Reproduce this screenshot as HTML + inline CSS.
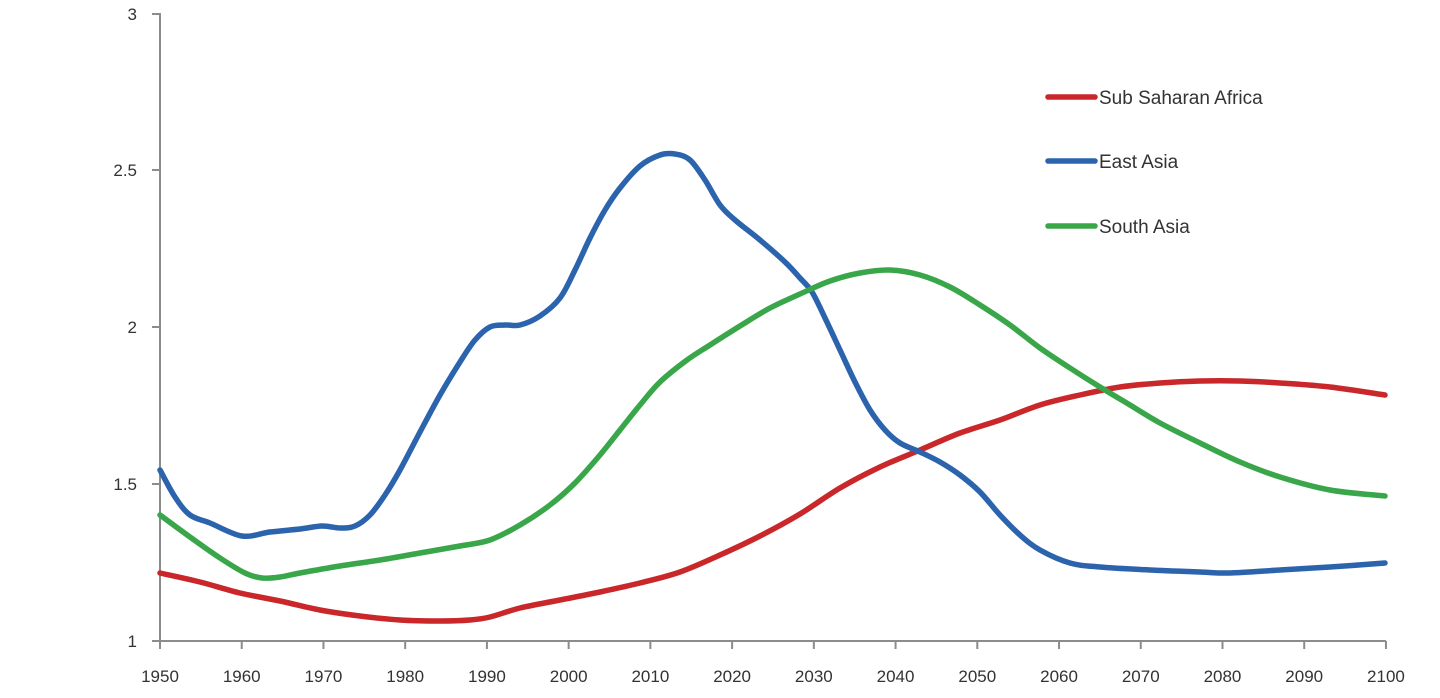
<!DOCTYPE html>
<html><head><meta charset="utf-8"><style>
html,body{margin:0;padding:0;background:#fff;}
svg{display:block;font-family:"Liberation Sans",sans-serif;}
</style></head><body>
<svg id="s" width="1440" height="698" viewBox="0 0 1440 698" xmlns="http://www.w3.org/2000/svg">
<rect width="1440" height="698" fill="#fff"/>
<g stroke="#8c8c8c" stroke-width="2" fill="none">
<line x1="160" y1="13" x2="160" y2="642"/>
<line x1="152" y1="641" x2="1386" y2="641"/>
<line x1="152" y1="14" x2="160" y2="14"/>
<line x1="152" y1="170" x2="160" y2="170"/>
<line x1="152" y1="327" x2="160" y2="327"/>
<line x1="152" y1="484" x2="160" y2="484"/>
<g id="xt"></g>
</g>
<g fill="#333" font-size="17" text-anchor="end">
<text x="137" y="20">3</text>
<text x="137" y="176">2.5</text>
<text x="137" y="333">2</text>
<text x="137" y="490">1.5</text>
<text x="137" y="647">1</text>
</g>
<g id="xl" fill="#333" font-size="17" text-anchor="middle"></g>
<g fill="none" stroke-width="5.5" stroke-linecap="round" stroke-linejoin="round">
<path id="red" stroke="#c9272a"/>
<path id="blue" stroke="#2b63ad"/>
<path id="green" stroke="#3aa64a"/>
<line x1="1048" y1="97" x2="1095" y2="97" stroke="#c9272a"/>
<line x1="1048" y1="161" x2="1095" y2="161" stroke="#2b63ad"/>
<line x1="1048" y1="226" x2="1095" y2="226" stroke="#3aa64a"/>
</g>
<g fill="#333" font-size="19">
<text x="1099" y="104">Sub Saharan Africa</text>
<text x="1099" y="168">East Asia</text>
<text x="1099" y="233">South Asia</text>
</g>
</svg>
<script>
var NS="http://www.w3.org/2000/svg";
var xt=document.getElementById("xt"),xl=document.getElementById("xl");
for(var i=0;i<=15;i++){var x=160+i*81.73;
var l=document.createElementNS(NS,"line");l.setAttribute("x1",x);l.setAttribute("x2",x);l.setAttribute("y1",641);l.setAttribute("y2",649);xt.appendChild(l);
var t=document.createElementNS(NS,"text");t.setAttribute("x",x);t.setAttribute("y",682);t.textContent=1950+i*10;xl.appendChild(t);}
function cr(p){var d="M"+p[0][0]+","+p[0][1];
for(var i=0;i<p.length-1;i++){var p0=p[i-1]||p[i],p1=p[i],p2=p[i+1],p3=p[i+2]||p2;
d+=" C"+(p1[0]+(p2[0]-p0[0])/6)+","+(p1[1]+(p2[1]-p0[1])/6)+" "+(p2[0]-(p3[0]-p1[0])/6)+","+(p2[1]-(p3[1]-p1[1])/6)+" "+p2[0]+","+p2[1];}
return d;}
var blue=[[160,470],[175,497],[190,515],[210,523],[242,536],[270,532],[300,529],[322,526],[340,528],[355,526],[370,515],[385,495],[400,470],[420,432],[440,395],[460,362],[475,340],[490,327],[505,325],[520,325],[540,316],[560,298],[575,270],[590,238],[605,210],[620,188],[640,166],[660,155],[675,154],[690,160],[705,180],[720,205],[735,220],[760,240],[785,262],[800,278],[812,292],[825,318],[840,350],[855,382],[870,410],[885,430],[900,443],[920,452],[940,462],[960,475],[980,492],[1000,515],[1020,535],[1040,550],[1070,563],[1100,567],[1150,570],[1200,572],[1230,573],[1280,570],[1330,567],[1385,563]];
var green=[[160,515],[190,537],[220,558],[245,573],[262,578],[280,577],[300,573],[340,566],[380,560],[420,553],[460,546],[490,540],[520,525],[550,505],[575,483],[600,455],[620,430],[640,405],[660,382],[687,360],[710,345],[740,326],[770,308],[800,294],[830,281],[860,273],[890,270],[920,275],[950,287],[980,305],[1010,325],[1040,348],[1070,368],[1100,387],[1130,405],[1160,423],[1200,443],[1240,462],[1280,477],[1330,490],[1385,496]];
var red=[[160,573],[200,582],[240,593],[280,601],[320,610],[360,616],[400,620],[440,621],[470,620],[490,617],[520,608],[560,600],[600,592],[640,583],[680,572],[720,555],[760,536],[800,514],[840,488],[880,467],[920,450],[960,433],[1000,420],[1040,405],[1080,395],[1120,387],[1160,383],[1200,381],[1240,381],[1280,383],[1330,387],[1385,395]];
document.getElementById("blue").setAttribute("d",cr(blue));
document.getElementById("green").setAttribute("d",cr(green));
document.getElementById("red").setAttribute("d",cr(red));
</script>
</body></html>
